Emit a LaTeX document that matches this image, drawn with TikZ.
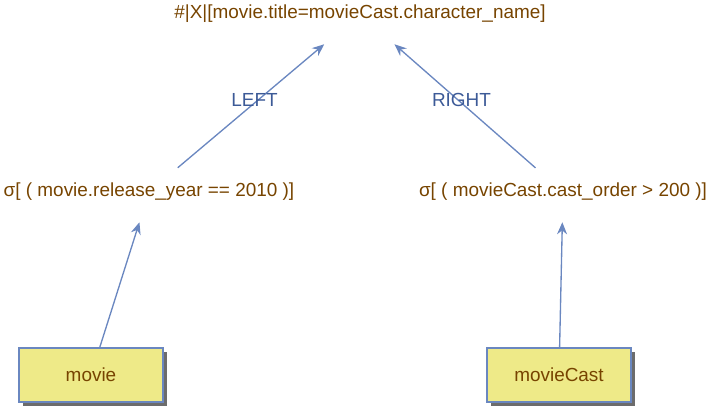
\documentclass[tikz,border=0pt]{standalone}
\usepackage{fontspec}
\setmainfont{Liberation Sans}
\usetikzlibrary{shadows,arrows.meta}

\begin{document}
\begin{tikzpicture}[x=0.75pt, y=-0.75pt]
  \definecolor{optext}{HTML}{774400}
  \definecolor{edgeblue}{HTML}{6A87C0}
  \definecolor{lblblue}{HTML}{3C5A97}
  \definecolor{relfill}{HTML}{EEEA88}
  \tikzstyle{every node}=[font=\fontsize{14.2pt}{16pt}\selectfont]
  \tikzstyle{opnode}=[text=optext, minimum height=45pt, inner sep=0pt]
  \tikzstyle{relnode}=[draw=edgeblue, fill=relfill, text=optext, line width=1pt,
      minimum width=108pt, minimum height=40.5pt,
      drop shadow={shadow xshift=3pt, shadow yshift=-3pt, fill=gray!85!black, opacity=1}]
  \tikzstyle{flow}=[draw=edgeblue, line width=1pt, -{Stealth[length=9pt,width=7.5pt]}]
  \tikzstyle{side}=[text=lblblue, midway, yshift=2pt]

  \useasboundingbox (0,0) rectangle (708,411);

  % operators
  \node[opnode, minimum width=250pt] (join) at (360,14) {\#|X|[movie.title=movieCast.character\_name]};
  \node[opnode, minimum width=200pt] (selmovie) at (149,192) {σ[ ( movie.release\_year == 2010 )]};
  \node[opnode, minimum width=200pt] (selcast) at (563,192) {σ[ ( movieCast.cast\_order > 200 )]};

  % relations
  \node[relnode] (movie) at (91,375) {movie};
  \node[relnode] (movieCast) at (559,375) {movieCast};

  \draw[flow] (movie) -- (selmovie);
  \draw[flow] (movieCast) -- (selcast);
  \draw[flow, shorten <=-7pt] (selmovie) -- node[side] {LEFT} (join);
  \draw[flow, shorten <=-7pt] (selcast) -- node[side] {RIGHT} (join);

\end{tikzpicture}
\end{document}
